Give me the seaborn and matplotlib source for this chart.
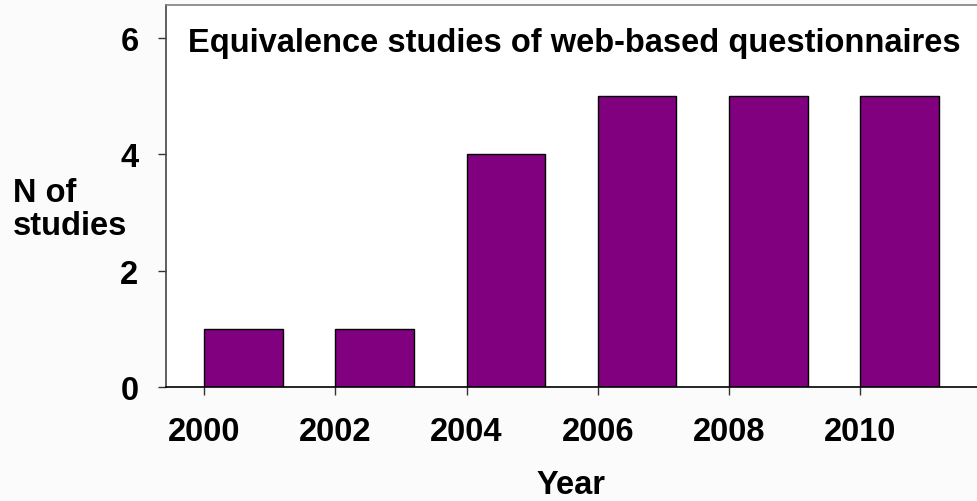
#!/usr/bin/env python3
"""Equivalence studies of web-based questionnaires, counted by year."""

import matplotlib
import matplotlib.pyplot as plt
import pandas as pd
import seaborn as sns

matplotlib.use("Agg")

years = ["2000", "2002", "2004", "2006", "2008", "2010"]
n_studies = [1, 1, 4, 5, 5, 5]
y_ticks = [0, 2, 4, 6]

TITLE = "Equivalence studies of web-based questionnaires"
BAR_WIDTH = 0.6
FS = 23.5


def main() -> None:
    sns.set_theme(style="white")
    plt.rcParams["font.family"] = ["Liberation Sans", "DejaVu Sans"]
    plt.rcParams["font.weight"] = "bold"
    plt.rcParams["text.color"] = "black"
    plt.rcParams["axes.labelcolor"] = "black"
    plt.rcParams["xtick.color"] = "black"
    plt.rcParams["ytick.color"] = "black"

    df = pd.DataFrame({"year": years, "n": n_studies})

    fig = plt.figure(figsize=(9.77, 5.02), dpi=100, facecolor="#fbfbfb")
    ax = fig.add_axes([0.1699, 0.2277, 0.8301, 0.7609])
    ax.set_facecolor("white")

    sns.barplot(
        data=df,
        x="year",
        y="n",
        order=years,
        color="#800080",
        saturation=1,
        edgecolor="black",
        linewidth=1,
        width=BAR_WIDTH,
        ax=ax,
    )

    # ticks sit at the left edge of each bar, like the original spreadsheet chart
    ax.set_xticks([i - BAR_WIDTH / 2 for i in range(len(years))], years)
    ax.set_yticks(y_ticks)
    ax.set_xlim(-0.59, len(years) - 0.41)
    ax.set_ylim(0, 6.58)

    ax.tick_params(axis="both", labelsize=FS, length=5.8, width=1, color="#333333",
                   labelcolor="black", direction="out", bottom=True, left=True)
    ax.tick_params(axis="x", pad=15.5)
    ax.tick_params(axis="y", pad=14.0)
    for label in ax.get_xticklabels() + ax.get_yticklabels():
        label.set_fontweight("bold")

    for side in ["left", "bottom", "top", "right"]:
        ax.spines[side].set_visible(True)
    ax.spines["left"].set_color("#444444")
    ax.spines["bottom"].set_color("black")
    ax.spines["top"].set_color("#808080")
    ax.spines["right"].set_visible(False)
    for spine in ax.spines.values():
        spine.set_linewidth(1.2)

    ax.set_xlabel("Year", fontsize=FS, fontweight="bold", va="center", color="black")
    ax.xaxis.set_label_coords(0.5, -0.257)
    ax.set_ylabel("N of\nstudies", fontsize=FS, fontweight="bold", rotation=0,
                  ha="left", va="center", linespacing=1.05, color="black")
    ax.yaxis.set_label_coords(-0.1887, 0.465)

    ax.text(0.0271, 0.879, TITLE, transform=ax.transAxes, fontsize=FS,
            fontweight="bold", ha="left", va="baseline", color="black")

    fig.savefig("out.png", dpi=100, facecolor=fig.get_facecolor())
    plt.close(fig)


if __name__ == "__main__":
    main()
